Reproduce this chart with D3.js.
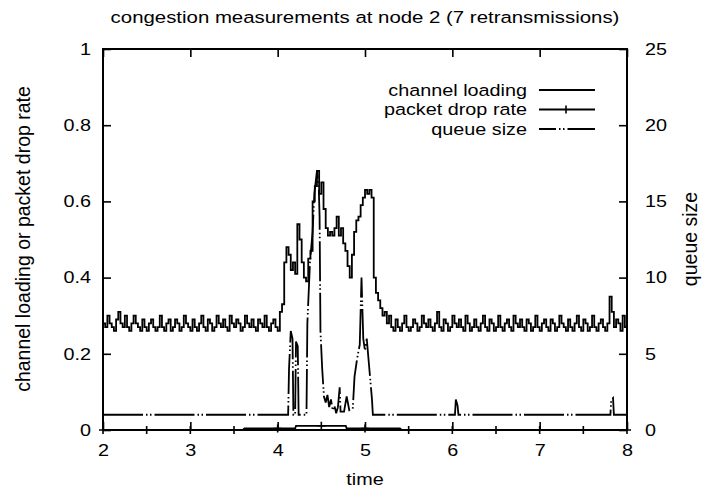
<!DOCTYPE html>
<html>
<head>
<meta charset="utf-8">
<script src="https://cdn.jsdelivr.net/npm/d3@7"></script>
<style>
  body { margin: 0; background: #fff; }
  text { font-family: "Liberation Sans", Arial, sans-serif; fill: #000; }
  .axis text { font-size: 16.5px; }
</style>
</head>
<body>
<script>
// channel loading, sampled every 0.025 from t = 2
const timeStart = 2
const timeStep = 0.025
const channelLoading = [
  0.28, 0.27, 0.30, 0.28, 0.27, 0.26, 0.29, 0.31, 0.28, 0.27, 0.30, 0.27, 0.26, 0.28, 0.30, 0.28, 0.27, 0.26, 0.29, 0.27,
  0.26, 0.28, 0.29, 0.27, 0.26, 0.27, 0.30, 0.27, 0.26, 0.28, 0.29, 0.26, 0.27, 0.29, 0.28, 0.26, 0.27, 0.30, 0.28, 0.27,
  0.26, 0.29, 0.27, 0.26, 0.28, 0.30, 0.27, 0.26, 0.29, 0.28, 0.26, 0.27, 0.30, 0.28, 0.27, 0.29, 0.27, 0.26, 0.30, 0.28,
  0.27, 0.29, 0.28, 0.26, 0.27, 0.30, 0.28, 0.27, 0.29, 0.27, 0.26, 0.29, 0.28, 0.27, 0.30, 0.27, 0.26, 0.28, 0.29, 0.27, 0.26, 0.31,
  0.33, 0.44, 0.48, 0.46, 0.42, 0.44, 0.41, 0.54, 0.50, 0.44, 0.40, 0.39, 0.45, 0.47, 0.60, 0.64, 0.68, 0.62, 0.65, 0.58,
  0.53, 0.51, 0.52, 0.51, 0.53, 0.56, 0.51, 0.53, 0.49, 0.47, 0.43, 0.40, 0.46, 0.52, 0.55, 0.56, 0.59, 0.61, 0.63, 0.62,
  0.63, 0.61, 0.40, 0.36, 0.34, 0.32, 0.30, 0.31, 0.28, 0.30,
  0.27, 0.26, 0.29, 0.27, 0.26, 0.28, 0.30, 0.27, 0.26, 0.27, 0.29, 0.28, 0.26, 0.27, 0.30, 0.28, 0.27, 0.29, 0.27, 0.26,
  0.28, 0.31, 0.27, 0.26, 0.29, 0.28, 0.26, 0.27, 0.30, 0.28, 0.27, 0.29, 0.27, 0.26, 0.30, 0.28, 0.26, 0.27, 0.29, 0.27,
  0.26, 0.28, 0.30, 0.27, 0.26, 0.29, 0.28, 0.26, 0.27, 0.30, 0.27, 0.26, 0.28, 0.29, 0.27, 0.26, 0.30, 0.28, 0.27, 0.29,
  0.27, 0.26, 0.29, 0.28, 0.26, 0.27, 0.30, 0.27, 0.26, 0.28, 0.29, 0.27, 0.26, 0.29, 0.28, 0.26, 0.27, 0.30, 0.28, 0.27,
  0.26, 0.29, 0.27, 0.26, 0.28, 0.30, 0.27, 0.26, 0.29, 0.28, 0.26, 0.27, 0.30, 0.27, 0.26, 0.28, 0.29, 0.27, 0.26, 0.28,
  0.35, 0.31, 0.27, 0.29, 0.28, 0.26, 0.30, 0.27, 0.26
]

// [time, rate]
const packetDropRate = [
  [2, 0], [2.5, 0], [3, 0], [3.5, 0], [3.6, 0], [3.62, 0.004], [4, 0.004], [4.2, 0.004], [4.21, 0.011],
  [4.5, 0.011], [4.78, 0.011], [4.79, 0.004], [5, 0.004], [5.4, 0.004], [5.42, 0], [5.5, 0], [6, 0],
  [6.5, 0], [7, 0], [7.5, 0], [8, 0]
]

// [time, queue size]
const queueSize = [
  [2, 1], [4.12, 1], [4.13, 4], [4.15, 6.5], [4.17, 6], [4.18, 1], [4.2, 1], [4.21, 5.8], [4.23, 5.5], [4.24, 1],
  [4.33, 1], [4.34, 7], [4.37, 11], [4.4, 13], [4.42, 15.5], [4.45, 17], [4.47, 16], [4.48, 14], [4.49, 6.5],
  [4.51, 4], [4.53, 2.2], [4.55, 1.8], [4.57, 2.3], [4.59, 1.5], [4.61, 2], [4.63, 1.3], [4.65, 1.6], [4.67, 1.1],
  [4.69, 1.5], [4.71, 2.8], [4.72, 1.2], [4.76, 1.2], [4.79, 2.2], [4.82, 1.3], [4.86, 1.4], [4.88, 3.5],
  [4.91, 4.7], [4.94, 5.6], [4.96, 10], [4.98, 6], [5.0, 5.2], [5.02, 6], [5.05, 4], [5.08, 2], [5.09, 1],
  [6.03, 1], [6.04, 2], [6.06, 1.6], [6.07, 1], [7.81, 1], [7.82, 2], [7.84, 2.1], [7.85, 1], [8, 1]
]

const xTicks = [2, 3, 4, 5, 6, 7, 8]
const yTicks = [0, 0.2, 0.4, 0.6, 0.8, 1]
const y2Ticks = [0, 5, 10, 15, 20, 25]
const legendNames = ['channel loading', 'packet drop rate', 'queue size']

const margin = {left: 103, right: 75, top: 49, bottom: 58}
const W = 702, H = 488
const width = W - margin.left - margin.right
const height = H - margin.top - margin.bottom
const stretch = 'scale(1.2,1)' // horizontal text in the original is a bit wide

const svg = d3.select('body').append('svg').attr('width', W).attr('height', H)
const g = svg.append('g').attr('transform', `translate(${margin.left},${margin.top})`)

const x = d3.scaleLinear().domain([2, 8]).range([0, width])
const y = d3.scaleLinear().domain([0, 1]).range([height, 0])
const y2 = d3.scaleLinear().domain([0, 25]).range([height, 0])

// axes, ticks pointing inwards
const tick = 8
g.append('g').attr('class', 'axis')
  .call(d3.axisLeft(y).tickValues(yTicks).tickSizeInner(-tick).tickSizeOuter(0).tickPadding(10).tickFormat(d3.format('')))
g.append('g').attr('class', 'axis').attr('transform', `translate(${width},0)`)
  .call(d3.axisRight(y2).tickValues(y2Ticks).tickSizeInner(-tick).tickSizeOuter(0).tickPadding(15))
g.append('g').attr('class', 'axis').attr('transform', `translate(0,${height})`)
  .call(d3.axisBottom(x).tickValues(xTicks).tickSizeInner(-tick).tickSizeOuter(0).tickPadding(14).tickFormat(d3.format('')))
g.append('g').attr('class', 'axis')
  .call(d3.axisTop(x).tickValues(xTicks).tickSizeInner(-tick).tickSizeOuter(0).tickFormat(''))
g.selectAll('.axis .domain').remove()
g.selectAll('.axis line').attr('stroke', '#000').attr('stroke-width', 1.6)
g.selectAll('.axis text').attr('transform', stretch)

g.append('rect').attr('width', width).attr('height', height)
  .attr('fill', 'none').attr('stroke', '#000').attr('stroke-width', 2)

// data lines
const lineCL = d3.line().curve(d3.curveStepAfter)
  .x((d, i) => x(timeStart + i * timeStep)).y(d => y(d))
const linePair = d3.line().x(d => x(d[0])).y(d => y(d[1]))
const lineQ = d3.line().x(d => x(d[0])).y(d => y2(d[1]))

const queueDash = '40,3,1.5,2.5,1.5,3'

g.append('path').datum(queueSize).attr('d', lineQ)
  .attr('fill', 'none').attr('stroke', '#000').attr('stroke-width', 1.8)
  .attr('stroke-dasharray', queueDash)
g.append('path').datum(packetDropRate).attr('d', linePair)
  .attr('fill', 'none').attr('stroke', '#000').attr('stroke-width', 1.8)
g.selectAll('path.pdr')
  .data(packetDropRate.filter(d => Math.abs(d[0] * 2 - Math.round(d[0] * 2)) < 1e-9))
  .enter()
  .append('path')
  .attr('class', 'pdr')
  .attr('d', d => `M${x(d[0]) - 4},${y(d[1])}h8M${x(d[0])},${y(d[1]) - 4}v8`)
  .attr('stroke', '#000').attr('stroke-width', 1.6)
g.append('path').datum(channelLoading).attr('d', lineCL)
  .attr('fill', 'none').attr('stroke', '#000').attr('stroke-width', 1.8)

// legend
const lg = g.append('g').attr('transform', `translate(${424},${41})`)
legendNames.forEach((name, i) => {
  const row = lg.append('g').attr('transform', `translate(0,${i * 19.5})`)
  row.append('text').attr('transform', stretch).attr('text-anchor', 'end').attr('dy', '0.35em')
    .attr('font-size', 16.5).text(name)
  const l = row.append('line').attr('x1', 12).attr('x2', 68)
    .attr('stroke', '#000').attr('stroke-width', 1.8)
  if (i === 1) row.append('line').attr('x1', 39).attr('x2', 39).attr('y1', -4).attr('y2', 4)
    .attr('stroke', '#000').attr('stroke-width', 1.6)
  if (i === 2) l.attr('stroke-dasharray', queueDash).attr('stroke-dashoffset', 23)
})

// labels
svg.append('text').attr('transform', `translate(365,23) ${stretch}`).attr('text-anchor', 'middle').attr('font-size', 17)
  .text('congestion measurements at node 2 (7 retransmissions)')
svg.append('text').attr('transform', `translate(365,485) ${stretch}`).attr('text-anchor', 'middle').attr('font-size', 16.5)
  .text('time')
svg.append('text').attr('transform', 'translate(30,239) rotate(-90)').attr('text-anchor', 'middle').attr('font-size', 19.5)
  .text('channel loading or packet drop rate')
svg.append('text').attr('transform', 'translate(697,239) rotate(-90)').attr('text-anchor', 'middle').attr('font-size', 19.5)
  .text('queue size')
</script>
</body>
</html>
